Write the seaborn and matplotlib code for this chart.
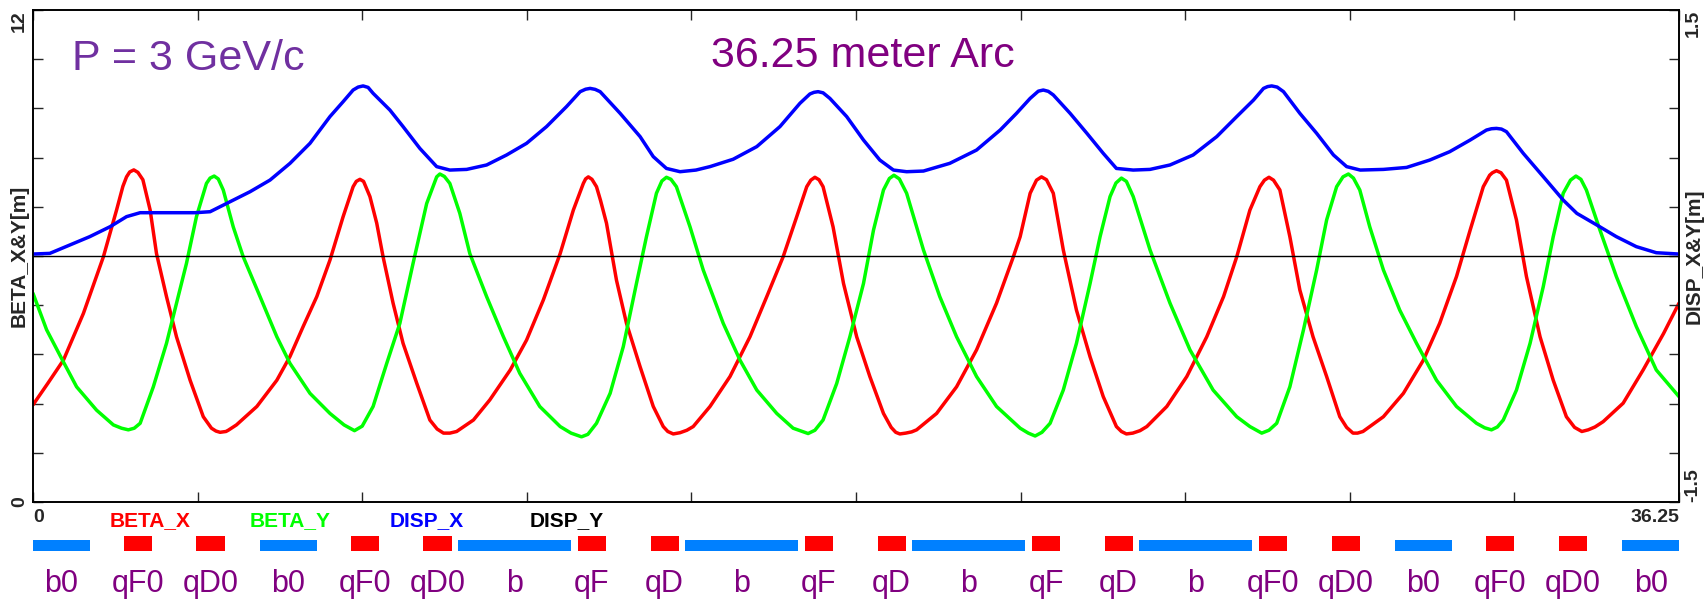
import numpy as np
import pandas as pd
import matplotlib
matplotlib.use("Agg")
import matplotlib.pyplot as plt
import seaborn as sns

# ---------------- data ----------------
arc_length = 36.25

s_beta_x = [0.0, 0.33, 0.67, 1.11, 1.55, 1.84, 1.98, 2.06, 2.13, 2.22, 2.31, 2.42, 2.51, 2.58, 2.72,
            2.94, 3.16, 3.46, 3.75, 3.93, 4.03, 4.12, 4.25, 4.30, 4.48, 4.93, 5.37, 5.66, 5.95, 6.25,
            6.54, 6.83, 7.05, 7.12, 7.20, 7.28, 7.42, 7.57, 7.71, 7.93, 8.15, 8.45, 8.74, 8.90, 9.04,
            9.18, 9.33, 9.70, 10.06, 10.51, 10.87, 11.24, 11.61, 11.90, 12.12, 12.17, 12.23, 12.31,
            12.41, 12.50, 12.63, 12.85, 13.07, 13.37, 13.66, 13.88, 13.98, 14.10, 14.25, 14.40, 14.54,
            14.91, 15.35, 15.79, 16.16, 16.52, 16.82, 17.04, 17.13, 17.22, 17.31, 17.40, 17.62, 17.85,
            18.14, 18.43, 18.73, 18.90, 19.00, 19.09, 19.22, 19.35, 19.46, 19.90, 20.34, 20.78, 21.22,
            21.59, 21.74, 21.96, 22.10, 22.21, 22.32, 22.47, 22.69, 22.98, 23.28, 23.57, 23.86, 23.97,
            24.08, 24.22, 24.38, 24.53, 24.97, 25.41, 25.85, 26.22, 26.51, 26.80, 27.02, 27.12, 27.22,
            27.32, 27.46, 27.68, 27.90, 28.19, 28.49, 28.78, 28.93, 29.07, 29.17, 29.29, 29.74, 30.18,
            30.62, 30.98, 31.35, 31.65, 31.94, 32.08, 32.14, 32.23, 32.33, 32.45, 32.67, 32.89, 33.19,
            33.48, 33.77, 33.95, 34.11, 34.25, 34.40, 34.58, 35.02, 35.46, 35.91, 36.25]
beta_x = [2.37, 2.90, 3.46, 4.60, 5.98, 7.12, 7.70, 7.93, 8.05, 8.10, 8.04, 7.86, 7.45, 7.12, 6.06,
          5.01, 4.03, 2.97, 2.08, 1.80, 1.73, 1.70, 1.72, 1.75, 1.88, 2.33, 2.97, 3.55, 4.28, 5.01,
          5.90, 6.96, 7.69, 7.82, 7.87, 7.82, 7.45, 6.80, 5.98, 4.85, 3.87, 2.90, 2.00, 1.78, 1.68,
          1.68, 1.72, 2.00, 2.49, 3.22, 3.95, 4.93, 6.06, 7.12, 7.77, 7.88, 7.93, 7.87,
          7.69, 7.35, 6.80, 5.41, 4.36, 3.30, 2.33, 1.84, 1.72, 1.66, 1.69, 1.75, 1.84,
          2.33, 3.06, 4.03, 5.01, 5.98, 6.96, 7.69, 7.85, 7.92, 7.86, 7.69, 6.71, 5.33,
          4.03, 3.06, 2.16, 1.82, 1.70, 1.66, 1.68, 1.71, 1.76, 2.16, 2.81, 3.71, 4.85,
          5.98, 6.47, 7.53, 7.85, 7.93, 7.86, 7.53, 6.15, 4.68, 3.54, 2.57, 1.84, 1.72,
          1.66, 1.68, 1.74, 1.84, 2.33, 3.06, 4.03, 5.01, 5.98, 7.12, 7.69, 7.85, 7.92,
          7.85, 7.61, 6.47, 5.17, 4.03, 3.06, 2.08, 1.82, 1.68, 1.68, 1.72, 2.08, 2.65,
          3.46, 4.36, 5.50, 6.63, 7.69, 7.97, 8.03, 8.08, 8.03, 7.85, 6.88, 5.50, 4.03,
          2.97, 2.08, 1.82, 1.72, 1.76, 1.83, 1.96, 2.41, 3.22, 4.11, 4.85]

s_beta_y = [0.0, 0.30, 0.63, 0.96, 1.40, 1.77, 1.95, 2.10, 2.23, 2.36, 2.65, 2.94, 3.16, 3.38, 3.60,
            3.82, 3.90, 3.99, 4.08, 4.19, 4.41, 4.63, 5.00, 5.37, 5.66, 6.10, 6.54, 6.85, 7.08, 7.25,
            7.49, 7.79, 8.08, 8.37, 8.67, 8.89, 8.96, 9.06, 9.18, 9.40, 9.62, 9.99, 10.36, 10.72,
            11.16, 11.61, 11.85, 12.08, 12.22, 12.41, 12.71, 13.00, 13.29, 13.51, 13.73, 13.85, 13.95,
            14.05, 14.17, 14.47, 14.76, 15.20, 15.57, 15.94, 16.38, 16.74, 17.07, 17.22, 17.40, 17.70,
            17.99, 18.29, 18.51, 18.73, 18.86, 18.96, 19.08, 19.24, 19.61, 19.97, 20.34, 20.78, 21.22,
            21.74, 21.92, 22.07, 22.22, 22.40, 22.69, 22.98, 23.28, 23.50, 23.72, 23.85, 23.97, 24.08,
            24.23, 24.60, 25.04, 25.48, 25.99, 26.51, 26.80, 27.06, 27.22, 27.39, 27.68, 27.98, 28.27,
            28.49, 28.71, 28.85, 28.97, 29.08, 29.22, 29.44, 29.74, 30.10, 30.47, 30.91, 31.35, 31.79,
            31.97, 32.12, 32.25, 32.38, 32.67, 32.97, 33.26, 33.48, 33.70, 33.86, 33.98, 34.09, 34.21,
            34.51, 34.87, 35.31, 35.75, 36.25]
beta_y = [5.09, 4.20, 3.50, 2.81, 2.24, 1.88, 1.80, 1.76, 1.80, 1.92, 2.81, 3.87, 4.85, 5.82, 6.96,
          7.77, 7.90, 7.95, 7.88, 7.61, 6.71, 5.98, 5.01, 4.03, 3.38, 2.65, 2.16, 1.88, 1.74, 1.85,
          2.33, 3.38, 4.36, 5.82, 7.28, 7.93, 8.00, 7.94, 7.77, 7.04, 6.06, 5.01, 4.03, 3.14,
          2.33, 1.84, 1.68, 1.59, 1.65, 1.92, 2.65, 3.79, 5.33, 6.47, 7.53, 7.83, 7.92,
          7.87, 7.69, 6.71, 5.66, 4.36, 3.46, 2.73, 2.16, 1.80, 1.67, 1.75, 2.00, 2.89,
          4.03, 5.33, 6.63, 7.61, 7.89, 7.97, 7.88, 7.53, 6.15, 5.01, 4.03, 3.06, 2.33,
          1.80, 1.68, 1.61, 1.70, 1.92, 2.73, 3.87, 5.33, 6.47, 7.45, 7.78, 7.90, 7.82,
          7.45, 6.15, 4.85, 3.71, 2.73, 2.08, 1.84, 1.68, 1.75, 1.92, 2.81, 4.20, 5.66,
          6.88, 7.69, 7.93, 8.00, 7.90, 7.61, 6.71, 5.66, 4.68, 3.87, 2.97, 2.33, 1.92,
          1.81, 1.76, 1.83, 2.00, 2.73, 3.87, 5.25, 6.47, 7.53, 7.85, 7.95, 7.87, 7.61,
          6.63, 5.50, 4.28, 3.22, 2.57]

s_disp_x = [0.0, 0.37, 0.81, 1.25, 1.70, 2.06, 2.36, 2.87, 3.57, 3.90, 4.34, 4.78, 5.22, 5.66, 6.10,
            6.54, 6.83, 7.05, 7.16, 7.27, 7.38, 7.49, 7.86, 8.15, 8.52, 8.89, 9.18, 9.55, 9.99, 10.43,
            10.87, 11.31, 11.75, 12.05, 12.17, 12.27, 12.38, 12.49, 12.93, 13.37, 13.66, 13.95, 14.25,
            14.60, 14.91, 15.42, 15.94, 16.45, 16.89, 17.11, 17.20, 17.29, 17.40, 17.55, 17.92, 18.29,
            18.65, 18.95, 19.24, 19.61, 20.19, 20.78, 21.30, 21.66, 21.96, 22.14, 22.25, 22.36, 22.47,
            22.84, 23.21, 23.57, 23.86, 24.23, 24.60, 25.04, 25.55, 26.07, 26.51, 26.88, 27.10, 27.19,
            27.28, 27.40, 27.54, 27.90, 28.27, 28.64, 28.93, 29.23, 29.74, 30.25, 30.76, 31.20, 31.65,
            32.01, 32.12, 32.23, 32.34, 32.45, 32.82, 33.26, 33.70, 34.00, 34.44, 34.87, 35.31, 35.75,
            36.25]
disp_x = [0.012, 0.016, 0.067, 0.118, 0.179, 0.240, 0.264, 0.264, 0.264, 0.270, 0.331, 0.392, 0.463,
          0.565, 0.687, 0.850, 0.941, 1.012, 1.030, 1.037, 1.028, 0.992, 0.890, 0.789, 0.656, 0.545,
          0.524, 0.528, 0.555, 0.616, 0.687, 0.789, 0.911, 1.002, 1.017, 1.022, 1.016, 1.002, 0.870,
          0.728, 0.606, 0.534, 0.514, 0.524, 0.545, 0.590, 0.667, 0.789, 0.931, 0.988, 0.998, 1.002,
          0.995, 0.961, 0.850, 0.707, 0.585, 0.524, 0.514, 0.518, 0.565, 0.646, 0.768, 0.870, 0.961,
          1.005, 1.012, 1.004, 0.982, 0.870, 0.748, 0.626, 0.534, 0.524, 0.528, 0.555, 0.616, 0.728,
          0.850, 0.951, 1.022, 1.033, 1.037, 1.030, 1.002, 0.870, 0.748, 0.616, 0.545, 0.524, 0.528,
          0.540, 0.585, 0.636, 0.707, 0.768, 0.776, 0.778, 0.774, 0.758, 0.626, 0.484, 0.341, 0.260,
          0.189, 0.118, 0.057, 0.020, 0.012]

s_disp_y = [0.0, 36.25]
disp_y = [0.0, 0.0]

series_names = ["BETA_X", "BETA_Y", "DISP_X", "DISP_Y"]

element_names = ["b0", "qF0", "qD0", "b0", "qF0", "qD0", "b", "qF", "qD", "b", "qF", "qD",
                 "b", "qF", "qD", "b", "qF0", "qD0", "b0", "qF0", "qD0", "b0"]
element_types = ["dipole", "quad", "quad", "dipole", "quad", "quad", "dipole", "quad", "quad",
                 "dipole", "quad", "quad", "dipole", "quad", "quad", "dipole", "quad", "quad",
                 "dipole", "quad", "quad", "dipole"]
element_starts = [0.0, 2.0, 3.6, 5.0, 7.0, 8.6, 9.35, 12.0, 13.6, 14.35, 17.0, 18.6,
                  19.35, 22.0, 23.6, 24.35, 27.0, 28.6, 30.0, 32.0, 33.6, 35.0]
element_lengths = [1.25, 0.62, 0.62, 1.25, 0.62, 0.62, 2.5, 0.62, 0.62, 2.5, 0.62, 0.62,
                   2.5, 0.62, 0.62, 2.5, 0.62, 0.62, 1.25, 0.62, 0.62, 1.25]

x_end_labels = ["0", "36.25"]
left_end_labels = ["0", "12"]
right_end_labels = ["-1.5", "1.5"]
left_limits = (0, 12)
right_limits = (-1.5, 1.5)
title_momentum = "P = 3 GeV/c"
title_arc = "36.25 meter Arc"
left_axis_label = "BETA_X&Y[m]"
right_axis_label = "DISP_X&Y[m]"

# ---------------- styling ----------------
sns.set_style("ticks")
plt.rcParams["font.family"] = ["Liberation Sans", "DejaVu Sans"]

colors = {"BETA_X": "#FF0000", "BETA_Y": "#00FF00", "DISP_X": "#0000FF", "DISP_Y": "#000000"}
elem_color = {"dipole": "#0080FF", "quad": "#FF0000"}
elem_height = {"dipole": 11 / 15, "quad": 1.0}

W, H = 1706, 600
fig = plt.figure(figsize=(W / 100, H / 100), dpi=100)


def fx(px):
    return px / W


def fy(py):
    return 1 - py / H


L_px, R_px, T_px, B_px = 33, 1679, 10, 502
ax = fig.add_axes([fx(L_px), fy(B_px), fx(R_px) - fx(L_px), fy(T_px) - fy(B_px)])
ax2 = ax.twinx()

df_bx = pd.DataFrame({"s": s_beta_x, "v": beta_x})
df_by = pd.DataFrame({"s": s_beta_y, "v": beta_y})
df_dx = pd.DataFrame({"s": s_disp_x, "v": disp_x})
df_dy = pd.DataFrame({"s": s_disp_y, "v": disp_y})

lw = 2.5
line_kw = dict(estimator=None, sort=False, legend=False, solid_joinstyle="round",
               solid_capstyle="round")
sns.lineplot(data=df_bx, x="s", y="v", ax=ax, color=colors["BETA_X"], lw=lw, **line_kw)
sns.lineplot(data=df_by, x="s", y="v", ax=ax, color=colors["BETA_Y"], lw=lw, **line_kw)
sns.lineplot(data=df_dy, x="s", y="v", ax=ax2, color=colors["DISP_Y"], lw=1.0, **line_kw)
sns.lineplot(data=df_dx, x="s", y="v", ax=ax2, color=colors["DISP_X"], lw=lw, **line_kw)

ax.set_xlim(0, arc_length)
ax.set_ylim(*left_limits)
ax2.set_ylim(*right_limits)

for a in (ax, ax2):
    for sp in a.spines.values():
        sp.set_linewidth(1.2)
        sp.set_color("black")

# x ticks
xt = np.linspace(0, arc_length, 11)
xl = [""] * len(xt)
xl[0], xl[-1] = x_end_labels
ax.set_xticks(xt)
ax.set_xticklabels(xl, fontsize=14, fontweight="bold")
ax.tick_params(axis="x", direction="in", length=7, width=1, top=True, bottom=True, pad=5)
tls = ax.get_xticklabels()
tls[0].set_ha("left")
tls[-1].set_ha("right")

# left y ticks
yt = np.linspace(left_limits[0], left_limits[1], 11)
yl = [""] * len(yt)
yl[0], yl[-1] = left_end_labels
ax.set_yticks(yt)
ax.set_yticklabels(yl, fontsize=14, fontweight="bold", rotation=90)
ax.tick_params(axis="y", direction="in", length=7, width=1, left=True, right=False, pad=3.5)
tls = ax.get_yticklabels()
tls[0].set_va("center")
tls[-1].set_va("top")

# right y ticks
yt2 = np.linspace(right_limits[0], right_limits[1], 11)
yl2 = [""] * len(yt2)
yl2[0], yl2[-1] = right_end_labels
ax2.set_yticks(yt2)
ax2.set_yticklabels(yl2, fontsize=14, fontweight="bold", rotation=90)
ax2.tick_params(axis="y", direction="in", length=7, width=1, right=True, left=False, pad=4)
tls = ax2.get_yticklabels()
tls[0].set_va("bottom")
tls[-1].set_va("top")

ax.set_xlabel("")
ax.set_ylabel(left_axis_label, fontsize=15, fontweight="bold")
ax.yaxis.set_label_coords(-0.0025, 0.5)
ax2.set_ylabel(right_axis_label, fontsize=15, fontweight="bold", rotation=90)
ax2.yaxis.set_label_coords(1.0035, 0.5)

# series name row (legend)
for i, name in enumerate(series_names):
    ax.text((110 - L_px) / (R_px - L_px) + i * 140 / (R_px - L_px),
            -(526 - B_px) / (B_px - T_px), name, transform=ax.transAxes,
            fontsize=15, fontweight="bold", color=colors[name], ha="left", va="baseline")

# titles
ax.text((72 - L_px) / (R_px - L_px), (B_px - 70) / (B_px - T_px), title_momentum,
        transform=ax.transAxes, fontsize=31, color="#7030A0", ha="left", va="baseline")
ax.text((863 - L_px) / (R_px - L_px), (B_px - 67) / (B_px - T_px), title_arc,
        transform=ax.transAxes, fontsize=31, color="#800080", ha="center", va="baseline")

# lattice element strip
ax_el = fig.add_axes([fx(L_px), fy(551), fx(R_px) - fx(L_px), fy(536) - fy(551)])
ax_el.set_xlim(0, arc_length)
ax_el.set_ylim(0, 1)
ax_el.bar(element_starts, [elem_height[t] for t in element_types], width=element_lengths,
          align="edge", color=[elem_color[t] for t in element_types], linewidth=0)
centers = [s + l / 2 for s, l in zip(element_starts, element_lengths)]
ax_el.set_xticks(centers)
ax_el.set_xticklabels(element_names, fontsize=22, color="#800080")
ax_el.tick_params(axis="x", length=0, pad=13)
ax_el.set_yticks([])
for sp in ax_el.spines.values():
    sp.set_visible(False)
ax_el.patch.set_alpha(0)

fig.savefig("out.png", dpi=100)
